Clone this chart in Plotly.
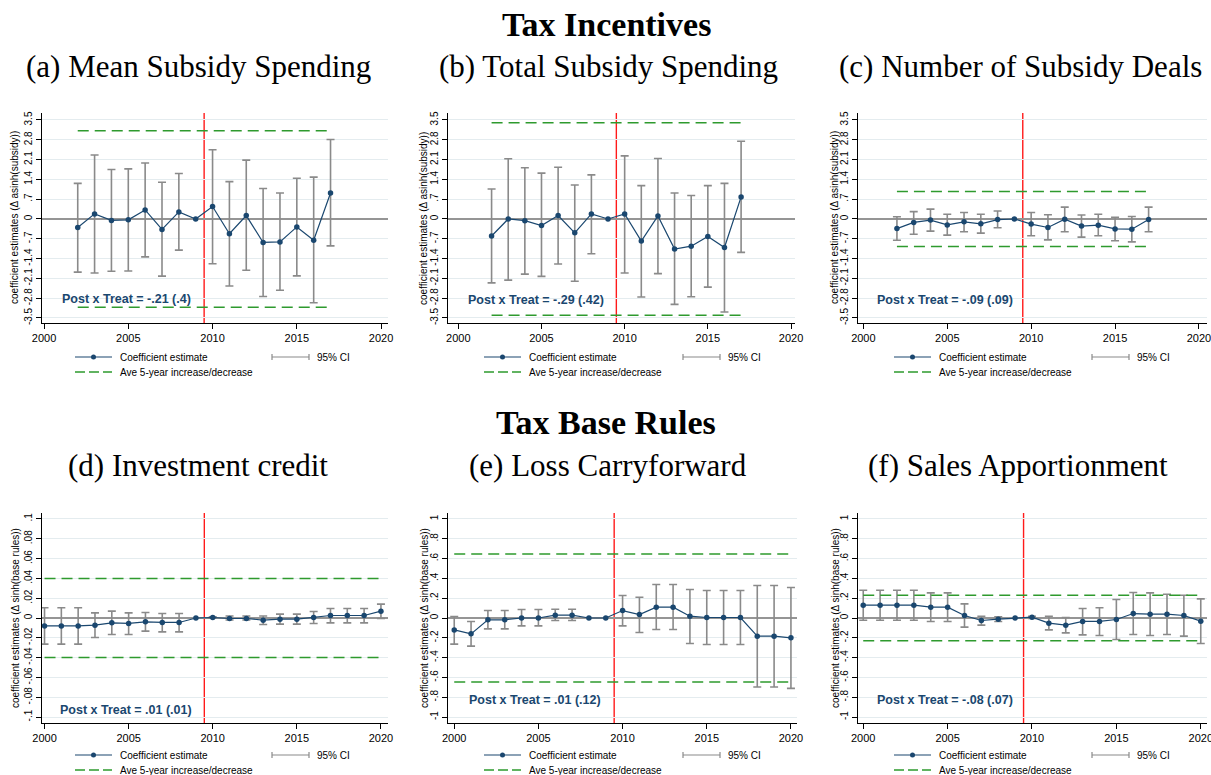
import plotly.graph_objects as go

W, H = 1211, 775

# ---------------- data ----------------
years_top = list(range(2002, 2018))
years_bot = list(range(2000, 2021))

# (a) Mean Subsidy Spending
coef_a = [-0.30, 0.18, -0.05, -0.03, 0.32, -0.37, 0.25, 0.0, 0.44, -0.52, 0.12, -0.83, -0.81, -0.28, -0.75, 0.92]
hi_a = [1.26, 2.26, 1.75, 1.77, 1.98, 1.30, 1.61, None, 2.45, 1.32, 2.08, 1.08, 0.92, 1.44, 1.48, 2.81]
lo_a = [-1.88, -1.91, -1.85, -1.84, -1.34, -2.02, -1.10, None, -1.58, -2.37, -1.81, -2.74, -2.52, -2.01, -2.96, -0.95]
band_a = 3.12

# (b) Total Subsidy Spending
coef_b = [-0.60, 0.0, -0.06, -0.23, 0.12, -0.49, 0.18, 0.0, 0.18, -0.78, 0.11, -1.06, -0.96, -0.62, -1.01, 0.78]
hi_b = [1.06, 2.13, 1.81, 1.62, 1.83, 1.20, 1.56, None, 2.23, 1.18, 2.14, 0.92, 0.83, 1.18, 1.26, 2.75]
lo_b = [-2.26, -2.16, -1.95, -2.03, -1.59, -2.20, -1.23, None, -1.91, -2.76, -1.93, -3.02, -2.75, -2.41, -3.29, -1.18]
band_b = 3.40

# (c) Number of Subsidy Deals
coef_c = [-0.34, -0.12, -0.04, -0.21, -0.10, -0.17, -0.02, 0.0, -0.18, -0.30, -0.01, -0.25, -0.22, -0.35, -0.36, -0.02]
hi_c = [0.08, 0.26, 0.35, 0.17, 0.23, 0.17, 0.28, None, 0.23, 0.15, 0.42, 0.14, 0.17, 0.06, 0.09, 0.42]
lo_c = [-0.75, -0.54, -0.43, -0.57, -0.45, -0.50, -0.31, None, -0.59, -0.74, -0.45, -0.64, -0.59, -0.77, -0.81, -0.45]
band_c = 0.97

# (d) Investment credit
coef_d = [-0.008, -0.008, -0.008, -0.0072, -0.0049, -0.0055, -0.0039, -0.0045, -0.0045, 0.0, 0.0005,
          -0.0005, -0.0005, -0.0022, -0.0012, -0.0012, 0.0005, 0.0025, 0.0025, 0.0025, 0.0069]
hi_d = [0.0103, 0.0103, 0.0103, 0.0052, 0.0069, 0.0052, 0.0055, 0.0045, 0.0045, None, 0.0012,
        0.002, 0.002, 0.002, 0.0039, 0.0039, 0.0066, 0.0096, 0.0096, 0.0096, 0.014]
lo_d = [-0.0264, -0.0264, -0.0264, -0.0197, -0.0166, -0.0166, -0.0133, -0.014, -0.014, None, -0.0002,
        -0.002, -0.002, -0.0066, -0.0062, -0.0062, -0.0055, -0.0049, -0.0049, -0.0049, -0.0005]
band_d = 0.04

# (e) Loss Carryforward
coef_e = [-0.12, -0.16, -0.018, -0.018, 0.0, 0.0, 0.029, 0.029, 0.0, 0.0, 0.075,
          0.035, 0.109, 0.109, 0.018, 0.005, 0.005, 0.005, -0.183, -0.183, -0.20]
hi_e = [0.015, -0.035, 0.076, 0.076, 0.086, 0.086, 0.089, 0.089, None, None, 0.227,
        0.21, 0.338, 0.338, 0.287, 0.277, 0.277, 0.277, 0.328, 0.328, 0.308]
lo_e = [-0.264, -0.284, -0.11, -0.11, -0.079, -0.079, -0.025, -0.025, None, None, -0.079,
        -0.146, -0.116, -0.116, -0.257, -0.267, -0.267, -0.267, -0.697, -0.697, -0.71]
band_e = 0.645

# (f) Sales Apportionment
coef_f = [0.129, 0.129, 0.129, 0.129, 0.109, 0.109, 0.025, -0.025, -0.012, 0.0, 0.008,
          -0.052, -0.072, -0.035, -0.035, -0.015, 0.045, 0.039, 0.039, 0.025, -0.032]
hi_f = [0.28, 0.28, 0.28, 0.28, 0.254, 0.254, 0.143, 0.018, 0.012, None, 0.018,
        0.018, 0.005, 0.096, 0.103, 0.187, 0.257, 0.254, 0.24, 0.23, 0.193]
lo_f = [-0.022, -0.022, -0.022, -0.022, -0.035, -0.035, -0.092, -0.072, -0.035, None, -0.005,
        -0.12, -0.15, -0.17, -0.176, -0.217, -0.166, -0.176, -0.166, -0.183, -0.257]
band_f = 0.23

post_treat = ["-.21 (.4)", "-.29 (.42)", "-.09 (.09)", ".01 (.01)", ".01 (.12)", "-.08 (.07)"]

panel_titles = ["(a) Mean Subsidy Spending", "(b) Total Subsidy Spending", "(c) Number of Subsidy Deals",
                "(d) Investment credit", "(e) Loss Carryforward", "(f) Sales Apportionment"]
section_titles = ["Tax Incentives", "Tax Base Rules"]

ticks_subsidy = [-3.5, -2.8, -2.1, -1.4, -0.7, 0, 0.7, 1.4, 2.1, 2.8, 3.5]
ticktext_subsidy = ["-3.5", "-2.8", "-2.1", "-1.4", "-.7", "0", ".7", "1.4", "2.1", "2.8", "3.5"]
ticks_credit = [-0.1, -0.08, -0.06, -0.04, -0.02, 0, 0.02, 0.04, 0.06, 0.08, 0.1]
ticktext_credit = ["-.1", "-.08", "-.06", "-.04", "-.02", "0", ".02", ".04", ".06", ".08", ".1"]
ticks_rules = [-1, -0.8, -0.6, -0.4, -0.2, 0, 0.2, 0.4, 0.6, 0.8, 1]
ticktext_rules = ["-1", "-.8", "-.6", "-.4", "-.2", "0", ".2", ".4", ".6", ".8", "1"]
xticks = [2000, 2005, 2010, 2015, 2020]

ytitle_subsidy = "coefficient estimates (\u0394 asinh(subsidy))"
ytitle_rules = "coefficient estimates (\u0394 sinh(base rules))"

# ---------------- styling ----------------
NAVY = "#1a476f"
GRAY_CI = "#8a8a8a"
GREEN = "#2e9a2e"
RED = "#ff1a1a"
GRID = "#e4ecef"
SANS = "Liberation Sans, Arial, sans-serif"
SERIF = "Liberation Serif, Times New Roman, serif"

# pixel boxes of each plot area: left, right, top, bottom ; x-range ; y-range
panels = [
    dict(years=years_top, coef=coef_a, hi=hi_a, lo=lo_a, band=band_a, box=(42, 388, 113, 323),
         xr=(1999.88, 2020.41), yr=(-3.677, 3.747), yt=ticks_subsidy, ytt=ticktext_subsidy,
         ytitle=ytitle_subsidy, ytx=15, note=(60, 299), leg=(75, 272), legy=(357, 372), tx=198, ty=67),
    dict(years=years_top, coef=coef_b, hi=hi_b, lo=lo_b, band=band_b, box=(448, 795, 113, 323),
         xr=(1999.38, 2020.24), yr=(-3.677, 3.747), yt=ticks_subsidy, ytt=ticktext_subsidy,
         ytitle=ytitle_subsidy, ytx=424, note=(466, 300), leg=(484, 683), legy=(357, 372), tx=608, ty=67),
    dict(years=years_top, coef=coef_c, hi=hi_c, lo=lo_c, band=band_c, box=(858, 1207, 113, 323),
         xr=(1999.68, 2020.48), yr=(-3.677, 3.747), yt=ticks_subsidy, ytt=ticktext_subsidy,
         ytitle=ytitle_subsidy, ytx=835, note=(875, 300), leg=(894, 1092), legy=(357, 372), tx=1020, ty=67),
    dict(years=years_bot, coef=coef_d, hi=hi_d, lo=lo_d, band=band_d, box=(42, 388, 513, 723),
         xr=(1999.85, 2020.42), yr=(-0.106, 0.106), yt=ticks_credit, ytt=ticktext_credit,
         ytitle=ytitle_rules, ytx=15, note=(58, 710), leg=(75, 272), legy=(755, 770), tx=198, ty=465),
    dict(years=years_bot, coef=coef_e, hi=hi_e, lo=lo_e, band=band_e, box=(448, 797, 513, 723),
         xr=(1999.63, 2020.36), yr=(-1.06, 1.06), yt=ticks_rules, ytt=ticktext_rules,
         ytitle=ytitle_rules, ytx=424, note=(467, 700), leg=(484, 683), legy=(755, 770), tx=608, ty=465),
    dict(years=years_bot, coef=coef_f, hi=hi_f, lo=lo_f, band=band_f, box=(858, 1207, 513, 723),
         xr=(1999.69, 2020.37), yr=(-1.06, 1.06), yt=ticks_rules, ytt=ticktext_rules,
         ytitle=ytitle_rules, ytx=835, note=(875, 700), leg=(894, 1092), legy=(755, 770), tx=1018, ty=465),
]


def fx(p):
    return p / W


def fy(p):
    return 1 - p / H


fig = go.Figure()
layout = dict(width=W, height=H, margin=dict(l=0, r=0, t=0, b=0, autoexpand=False),
              paper_bgcolor="white", plot_bgcolor="white", showlegend=False,
              font=dict(family=SANS, color="#000000"))
shapes, annotations = [], []

for i, p in enumerate(panels, start=1):
    xa = "x" if i == 1 else f"x{i}"
    ya = "y" if i == 1 else f"y{i}"
    xkey = "xaxis" if i == 1 else f"xaxis{i}"
    ykey = "yaxis" if i == 1 else f"yaxis{i}"
    l, r, t, b = p["box"]

    layout[xkey] = dict(domain=[fx(l), fx(r)], anchor=ya, range=list(p["xr"]),
                        tickvals=xticks, ticks="outside", ticklen=5, tickwidth=1, tickcolor="#000",
                        showline=True, linecolor="#000", linewidth=1, showgrid=False, zeroline=False,
                        ticklabeloverflow="allow", automargin=False,
                        tickfont=dict(size=11, family=SANS, color="#000"))
    layout[ykey] = dict(domain=[fy(b), fy(t)], anchor=xa, range=list(p["yr"]),
                        tickvals=p["yt"], ticktext=p["ytt"], tickangle=-90, automargin=False,
                        ticks="outside", ticklen=5, tickwidth=1, tickcolor="#000",
                        showline=True, linecolor="#000", linewidth=1,
                        showgrid=True, gridcolor=GRID, gridwidth=1,
                        zeroline=True, zerolinecolor="#959595", zerolinewidth=1.6,
                        tickfont=dict(size=10, family=SANS, color="#000"))

    yrs = p["years"]
    # 95% confidence intervals (capped ranges)
    ci_x, ci_y, ci_up, ci_dn = [], [], [], []
    for yr_, c, h, lo in zip(yrs, p["coef"], p["hi"], p["lo"]):
        if h is None:
            continue
        ci_x.append(yr_)
        ci_y.append(c)
        ci_up.append(h - c)
        ci_dn.append(c - lo)
    fig.add_trace(go.Scatter(x=ci_x, y=ci_y, mode="markers", xaxis=xa, yaxis=ya,
                             marker=dict(size=1, opacity=0),
                             error_y=dict(type="data", symmetric=False, array=ci_up, arrayminus=ci_dn,
                                          color=GRAY_CI, thickness=1.6, width=4),
                             hoverinfo="skip"))

    # average 5-year increase / decrease bands
    for sgn in (1, -1):
        fig.add_trace(go.Scatter(x=[yrs[0], yrs[-1]], y=[sgn * p["band"]] * 2, mode="lines",
                                 xaxis=xa, yaxis=ya,
                                 line=dict(color=GREEN, width=1.5, dash="11px,6px"), hoverinfo="skip"))

    # coefficient estimates
    fig.add_trace(go.Scatter(x=yrs, y=p["coef"], mode="lines+markers", xaxis=xa, yaxis=ya,
                             line=dict(color=NAVY, width=1.2),
                             marker=dict(color=NAVY, size=5.5, symbol="circle")))

    # treatment year marker
    shapes.append(dict(type="line", xref=xa, yref=f"{ya} domain", x0=2009.5, x1=2009.5, y0=0, y1=1,
                       line=dict(color=RED, width=1.4), layer="below"))

    # y-axis title
    annotations.append(dict(text=p["ytitle"], xref="paper", yref="paper", x=fx(p["ytx"]),
                            y=fy((t + b) / 2), textangle=-90, showarrow=False,
                            xanchor="center", yanchor="middle",
                            font=dict(size=10, family=SANS, color="#000")))

    # Post x Treat summary
    nx, ny = p["note"]
    annotations.append(dict(text=f"<b>Post x Treat = {post_treat[i - 1]}</b>", xref="paper", yref="paper",
                            x=fx(nx), y=fy(ny), xanchor="left", yanchor="middle", showarrow=False,
                            font=dict(size=12.5, family=SANS, color=NAVY)))

    # panel title
    annotations.append(dict(text=panel_titles[i - 1], xref="paper", yref="paper",
                            x=fx(p["tx"]), y=fy(p["ty"]), xanchor="center", yanchor="middle",
                            showarrow=False, font=dict(size=31, family=SERIF, color="#000")))

    # legend block
    lx, cx = p["leg"]
    ly1, ly2 = p["legy"]
    shapes.append(dict(type="line", xref="paper", yref="paper", x0=fx(lx), x1=fx(lx + 37),
                       y0=fy(ly1), y1=fy(ly1), line=dict(color=NAVY, width=1.2)))
    shapes.append(dict(type="circle", xref="paper", yref="paper", x0=fx(lx + 16), x1=fx(lx + 21),
                       y0=fy(ly1 - 2.5), y1=fy(ly1 + 2.5), fillcolor=NAVY, line=dict(color=NAVY, width=0)))
    annotations.append(dict(text="Coefficient estimate", xref="paper", yref="paper", x=fx(lx + 43),
                            y=fy(ly1), xanchor="left", yanchor="middle", showarrow=False,
                            font=dict(size=10, family=SANS, color="#000")))
    shapes.append(dict(type="line", xref="paper", yref="paper", x0=fx(cx), x1=fx(cx + 37),
                       y0=fy(ly1), y1=fy(ly1), line=dict(color=GRAY_CI, width=1.2)))
    for ex in (cx, cx + 37):
        shapes.append(dict(type="line", xref="paper", yref="paper", x0=fx(ex), x1=fx(ex),
                           y0=fy(ly1 - 3), y1=fy(ly1 + 3), line=dict(color=GRAY_CI, width=1.2)))
    annotations.append(dict(text="95% CI", xref="paper", yref="paper", x=fx(cx + 43),
                            y=fy(ly1), xanchor="left", yanchor="middle", showarrow=False,
                            font=dict(size=10, family=SANS, color="#000")))
    shapes.append(dict(type="line", xref="paper", yref="paper", x0=fx(lx), x1=fx(lx + 37),
                       y0=fy(ly2), y1=fy(ly2), line=dict(color=GREEN, width=1.5, dash="10px,4px")))
    annotations.append(dict(text="Ave 5-year increase/decrease", xref="paper", yref="paper", x=fx(lx + 43),
                            y=fy(ly2), xanchor="left", yanchor="middle", showarrow=False,
                            font=dict(size=10, family=SANS, color="#000")))

# section headings
for txt, ypx in zip(section_titles, (24, 422)):
    annotations.append(dict(text=f"<b>{txt}</b>", xref="paper", yref="paper", x=fx(606), y=fy(ypx),
                            xanchor="center", yanchor="middle", showarrow=False,
                            font=dict(size=34, family=SERIF, color="#000")))

layout["shapes"] = shapes
layout["annotations"] = annotations
fig.update_layout(**layout)
fig.write_html("out.html")
